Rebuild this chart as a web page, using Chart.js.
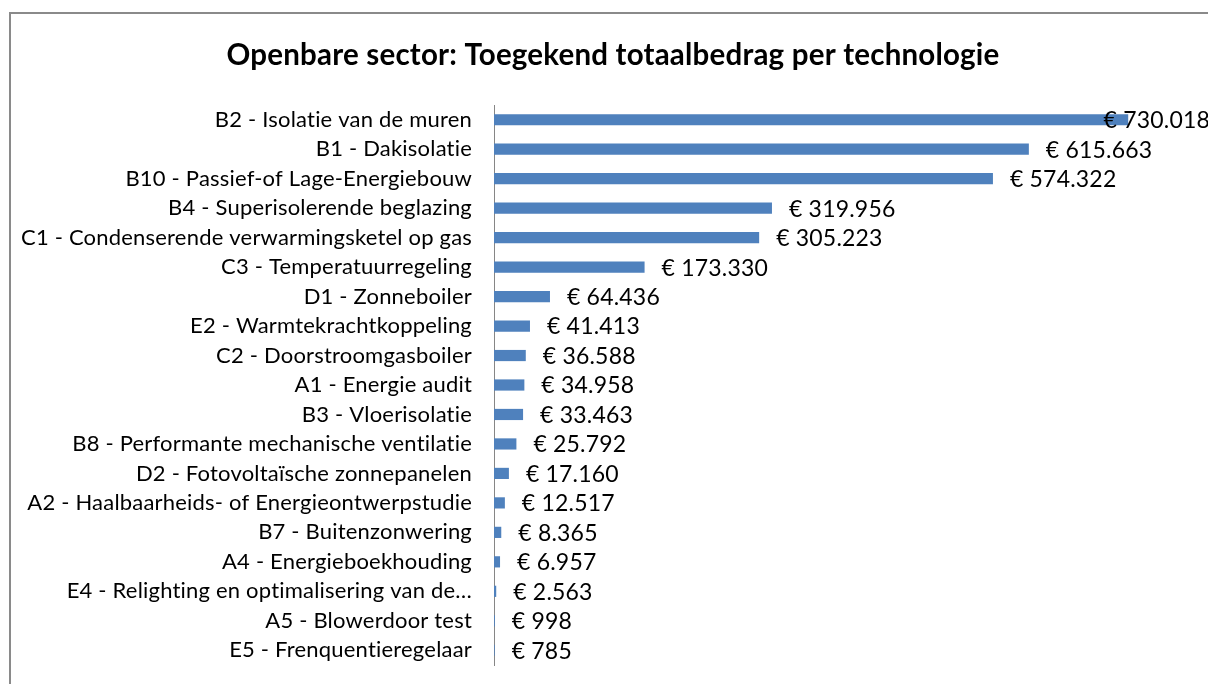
<!DOCTYPE html>
<html>
<head>
<meta charset="utf-8">
<script src="https://cdn.jsdelivr.net/npm/chart.js@4/dist/chart.umd.min.js"></script>
<style>
  html, body { margin: 0; padding: 0; background: #fff; overflow: hidden; }
  #wrap { position: relative; width: 1208px; height: 684px; }
  #frame { position: absolute; left: 9px; top: 12px; width: 1300px; height: 800px; border: 2px solid #8a8a8a; }
  canvas { position: absolute; left: 0; top: 0; }
</style>
</head>
<body>
<div id="wrap">
  <div id="frame"></div>
  <canvas id="chart" width="1208" height="684"></canvas>
</div>
<script>
const titleText = "Openbare sector: Toegekend totaalbedrag per technologie";

const technologies = [
  "B2 - Isolatie van de muren",
  "B1 - Dakisolatie",
  "B10 - Passief-of Lage-Energiebouw",
  "B4 - Superisolerende beglazing",
  "C1 - Condenserende verwarmingsketel op gas",
  "C3 - Temperatuurregeling",
  "D1 - Zonneboiler",
  "E2 - Warmtekrachtkoppeling",
  "C2 - Doorstroomgasboiler",
  "A1 - Energie audit",
  "B3 - Vloerisolatie",
  "B8 - Performante mechanische ventilatie",
  "D2 - Fotovoltaïsche zonnepanelen",
  "A2 - Haalbaarheids- of Energieontwerpstudie",
  "B7 - Buitenzonwering",
  "A4 - Energieboekhouding",
  "E4 - Relighting en optimalisering van de…",
  "A5 - Blowerdoor test",
  "E5 - Frenquentieregelaar",
];

const amounts = [
  730018, 615663, 574322, 319956, 305223, 173330, 64436, 41413, 36588,
  34958, 33463, 25792, 17160, 12517, 8365, 6957, 2563, 998, 785,
];

const font = "Lato, 'Open Sans', sans-serif";

const euro = (v) => "€ " + String(v).replace(/\B(?=(\d{3})+(?!\d))/g, ".");

// a tiny letter spacing keeps Lato from using its "ti" ligature
const noLigatures = {
  id: "noLigatures",
  beforeDraw(chart) {
    if ("letterSpacing" in chart.ctx) chart.ctx.letterSpacing = "0.2px";
  },
};

// the title sits centred over the whole frame, not over the canvas minus padding
const frameTitle = {
  id: "frameTitle",
  afterDraw(chart) {
    const ctx = chart.ctx;
    ctx.save();
    ctx.font = "bold 29.5px " + font;
    ctx.fillStyle = "#000";
    ctx.textAlign = "center";
    ctx.textBaseline = "middle";
    ctx.fillText(titleText, 613, 55);
    ctx.restore();
  },
};

const valueLabels = {
  id: "valueLabels",
  afterDatasetsDraw(chart) {
    const ctx = chart.ctx;
    const meta = chart.getDatasetMeta(0);
    ctx.save();
    ctx.font = "23px " + font;
    ctx.fillStyle = "#000";
    ctx.textBaseline = "middle";
    ctx.textAlign = "left";
    meta.data.forEach((bar, i) => {
      const txt = euro(amounts[i]);
      const w = ctx.measureText(txt).width;
      const x = Math.min(bar.x + 17, chart.width - w + 2);
      ctx.fillText(txt, x, bar.y + 1);
    });
    ctx.restore();
  },
};

new Chart(document.getElementById("chart"), {
  type: "bar",
  data: {
    labels: technologies,
    datasets: [{
      data: amounts,
      backgroundColor: "#4F81BD",
      barPercentage: 0.38,
      categoryPercentage: 1,
    }],
  },
  options: {
    indexAxis: "y",
    responsive: false,
    animation: false,
    layout: { padding: { left: 0, right: 19, top: 105, bottom: 19 } },
    plugins: {
      legend: { display: false },
      tooltip: { enabled: false },
      title: { display: false },
    },
    scales: {
      x: {
        display: false,
        min: 0,
        max: 800000,
      },
      y: {
        afterFit: (s) => {
          s.width = 494;
          s.paddingTop = 0;
          s.paddingBottom = 0;
        },
        grid: { display: false, drawTicks: false },
        border: { display: true, color: "#868686", width: 1 },
        ticks: {
          color: "#000",
          padding: 22,
          font: { family: font, size: 22 },
          autoSkip: false,
        },
      },
    },
  },
  plugins: [noLigatures, valueLabels, frameTitle],
});
</script>
</body>
</html>
